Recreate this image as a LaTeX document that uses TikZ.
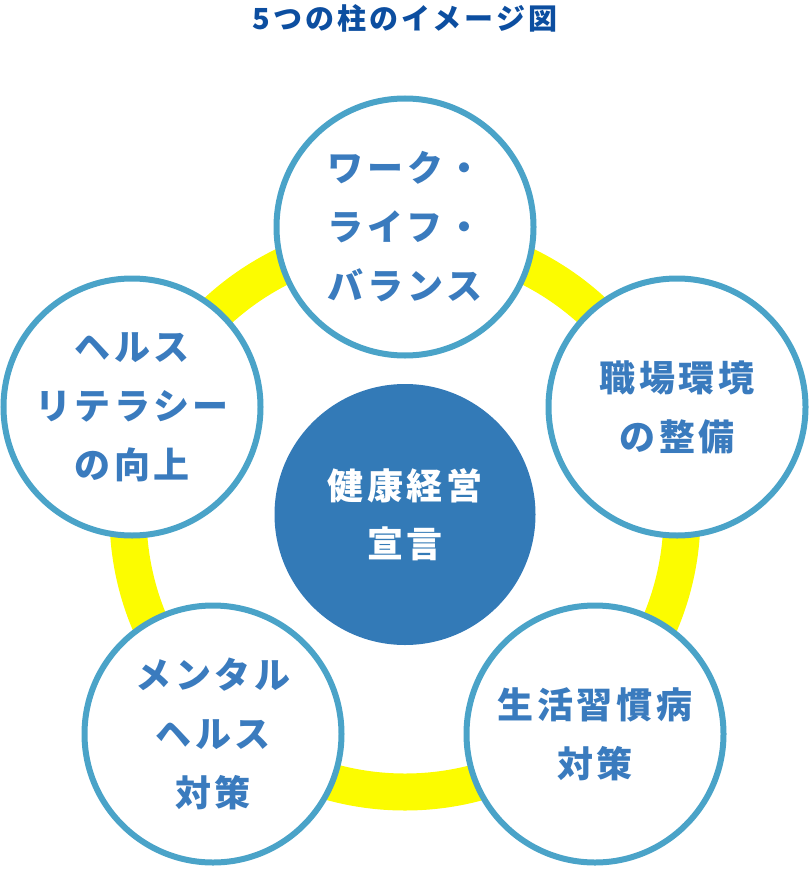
\documentclass[tikz,border=0pt]{standalone}
\usepackage{fontspec}
\newfontfamily\jp{Noto Sans CJK JP}[LetterSpace=10]
\newfontfamily\jptitle{Noto Sans CJK JP}[LetterSpace=10]
\definecolor{ringyellow}{RGB}{252,252,0}
\definecolor{rimblue}{RGB}{74,163,200}
\definecolor{textblue}{RGB}{58,123,190}
\definecolor{titleblue}{RGB}{12,78,160}
\definecolor{centerblue}{RGB}{51,122,183}
\tikzset{
  pillar/.style={circle, draw=rimblue, line width=6pt, fill=white, minimum size=257pt, inner sep=0pt,
    text=textblue, align=center, font=\jp\bfseries\fontsize{36}{59}\selectfont},
  core/.style={circle, fill=centerblue, minimum size=261pt, inner sep=0pt,
    text=white, align=center, font=\jp\bfseries\fontsize{36}{58}\selectfont},
  heading/.style={text=titleblue, font=\jptitle\bfseries\fontsize{29}{32}\selectfont, inner sep=0pt}
}
\begin{document}
\begin{tikzpicture}[x=1pt,y=-1pt]
\useasboundingbox (0,0) rectangle (810,869);
\node[heading] (title) at (405,18) {5つの柱のイメージ図};
\coordinate (hub) at (405,515);
\draw[ringyellow, line width=37pt] (hub) circle[radius=277pt];
\node[core] (center) at (405,514.5) {健康経営\\宣言};
\node[pillar] (top) at (405,227) {ワーク・\\ライフ・\\バランス};
\node[pillar] (right) at (677,407) {職場環境\\の整備};
\node[pillar] (left) at (132,407) {ヘルス\\リテラシー\\の向上};
\node[pillar] (bl) at (213,734) {メンタル\\ヘルス\\対策};
\node[pillar] (br) at (595,734) {生活習慣病\\対策};
\end{tikzpicture}
\end{document}
